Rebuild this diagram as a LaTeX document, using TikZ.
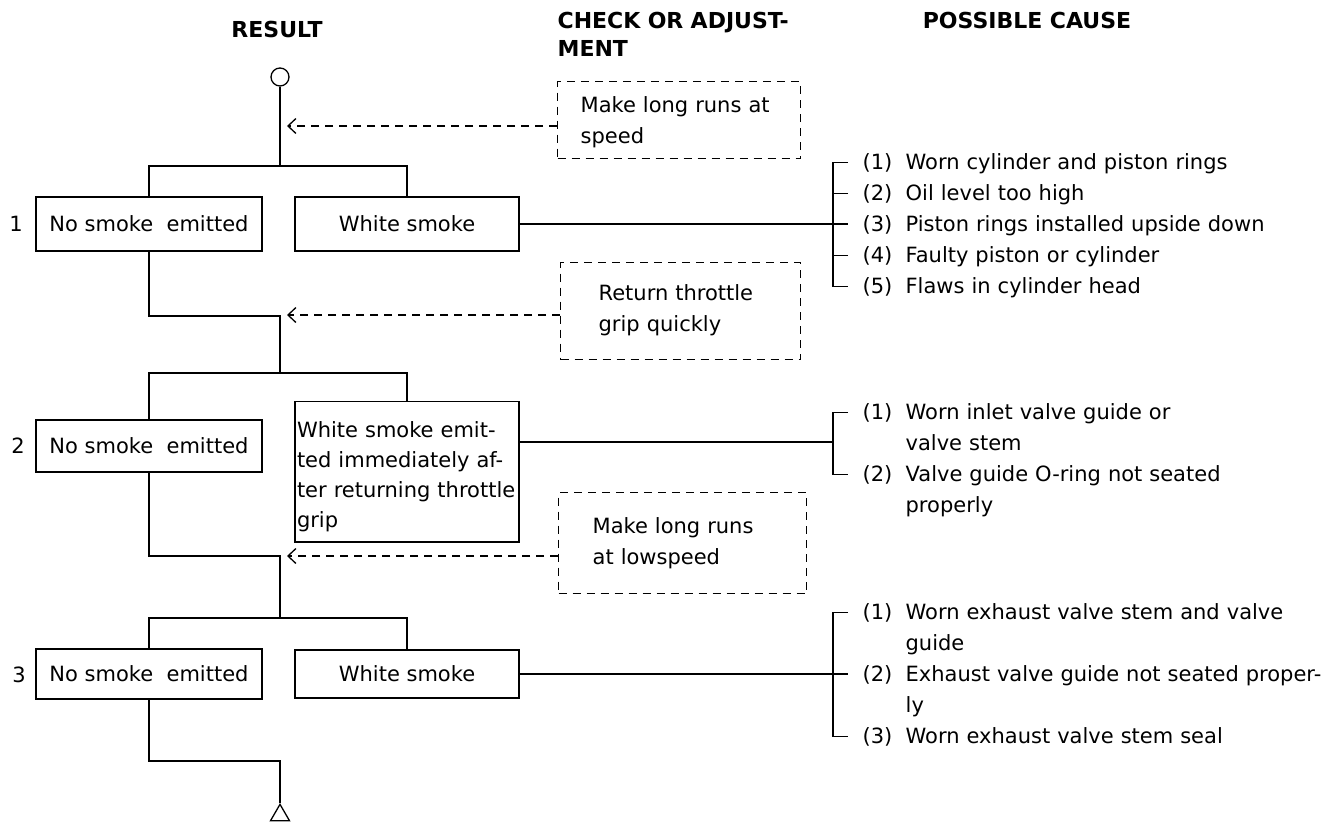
\documentclass[tikz,border=0pt]{standalone}
\usepackage{fontspec}
\setmainfont{DejaVu Sans}
\usetikzlibrary{shapes.geometric,arrows.meta}

\tikzset{
  result/.style={draw, minimum width=226pt, minimum height=54pt, inner sep=0pt},
  check/.style={draw, dash pattern=on 8pt off 6pt, anchor=north west, align=left, inner ysep=0pt},
  back/.style={dash pattern=on 8pt off 6pt, -{Straight Barb[length=8pt,width=15pt]}},
  causenum/.style={anchor=base west, inner xsep=14pt, inner ysep=0pt},
  causetext/.style={anchor=base west, inner sep=0pt, text width=420pt, align=left},
  head/.style={font=\fontsize{22}{28}\selectfont\bfseries, inner sep=0pt},
}

\begin{document}
\begin{tikzpicture}[x=1pt, y=-1pt, line width=1.3pt, font=\fontsize{21}{31}\selectfont]
\useasboundingbox (0,0) rectangle (1337,822);

% column heads
\node[head] (hres) at (277,29) {RESULT};
\node[head, anchor=base west, text width=260pt, align=left] (hchk) at (557,28) {CHECK OR ADJUST-\\MENT};
\node[head, anchor=base] (hcause) at (1027,28) {POSSIBLE CAUSE};

% result column
\node[draw, circle, minimum size=18pt, inner sep=0pt] (start) at (280,77) {};
\node[result] (nos1) at (149,224) {No smoke~~emitted};
\node[result, minimum width=224pt] (wht1) at (407,224) {White smoke};
\node[result, minimum height=52pt] (nos2) at (149,446) {No smoke~~emitted};
\node[result, minimum width=0pt, minimum height=0pt, anchor=north, text width=220pt, align=left,
  inner xsep=2pt, inner ysep=10pt, text height=26pt,
  font=\fontsize{21}{30}\selectfont] (wht2) at (407,401)
  {\mbox{White smoke emit-}\\\mbox{ted immediately af-}\\\mbox{ter returning throttle}\\\mbox{grip}};
\node[result, minimum height=50pt] (nos3) at (149,674) {No smoke~~emitted};
\node[result, minimum width=224pt, minimum height=48pt] (wht3) at (407,674) {White smoke};
\node[draw, regular polygon, regular polygon sides=3, minimum size=22pt, inner sep=0pt,
  anchor=corner 1] (stop) at (280,803) {};

\node (lab1) at (16,224) {1};
\node (lab2) at (18,446) {2};
\node (lab3) at (19,675) {3};

\coordinate (br1) at (280,166);
\coordinate (j1) at (280,316);
\coordinate (br2) at (280,373);
\coordinate (j2) at (280,556);
\coordinate (br3) at (280,618);
\coordinate (j3) at (280,761);

\draw (start) -- (br1);
\draw (nos1.north) |- (br1) -| (wht1.north);
\draw (nos1.south) |- (j1) -- (br2);
\draw (nos2.north) |- (br2) -| (wht2.north);
\draw (nos2.south) |- (j2) -- (br3);
\draw (nos3.north) |- (br3) -| (wht3.north);
\draw (nos3.south) |- (j3) -- (stop.corner 1);

% check or adjustment
\node[check, inner xsep=23pt, text width=197pt, text height=31pt, text depth=46pt] (chk1) at (557,81)
  {Make long runs at\\speed};
\node[check, inner xsep=38pt, text width=164pt, text height=38pt, text depth=59pt] (chk2) at (560,262)
  {Return throttle\\grip quickly};
\node[check, inner xsep=34pt, text width=180pt, text height=41pt, text depth=60pt] (chk3) at (558,492)
  {Make long runs\\at lowspeed};

\coordinate (ar1) at (287,126);
\coordinate (ar2) at (287,315);
\coordinate (ar3) at (287,556);
\draw[back] (chk1.west |- ar1) -- (ar1);
\draw[back] (chk2.west |- ar2) -- (ar2);
\draw[back] (chk3.west |- ar3) -- (ar3);

% possible causes
\node[causenum] (n11) at (848,169) {(1)};
\node[causenum] (n12) at (848,200) {(2)};
\node[causenum] (n13) at (848,231) {(3)};
\node[causenum] (n14) at (848,262) {(4)};
\node[causenum] (n15) at (848,293) {(5)};
\node[causetext] (t11) at (905,169) {Worn cylinder and piston rings};
\node[causetext] (t12) at (905,200) {Oil level too high};
\node[causetext] (t13) at (905,231) {Piston rings installed upside down};
\node[causetext] (t14) at (905,262) {Faulty piston or cylinder};
\node[causetext] (t15) at (905,293) {Flaws in cylinder head};

\node[causenum] (n21) at (848,419) {(1)};
\node[causenum] (n22) at (848,481) {(2)};
\node[causetext] (t21) at (905,419) {Worn inlet valve guide or\\valve stem};
\node[causetext] (t22) at (905,481) {Valve guide O-ring not seated\\properly};

\node[causenum] (n31) at (848,619) {(1)};
\node[causenum] (n32) at (848,681) {(2)};
\node[causenum] (n33) at (848,743) {(3)};
\node[causetext] (t31) at (905,619) {Worn exhaust valve stem and valve\\guide};
\node[causetext] (t32) at (905,681) {Exhaust valve guide not seated proper-\\ly};
\node[causetext] (t33) at (905,743) {Worn exhaust valve stem seal};

\coordinate (b1) at (833,224);
\coordinate (b2) at (833,442);
\coordinate (b3) at (833,674);

\draw (n11.west) -- (n11.west -| b1) -- (n15.west -| b1) -- (n15.west);
\draw (n12.west) -- (n12.west -| b1);
\draw (n14.west) -- (n14.west -| b1);
\draw (wht1.east) -- (wht1.east -| n13.west);

\draw (n21.west) -- (n21.west -| b2) -- (n22.west -| b2) -- (n22.west);
\draw (b2 -| wht2.east) -- (b2);

\draw (n31.west) -- (n31.west -| b3) -- (n33.west -| b3) -- (n33.west);
\draw (wht3.east) -- (wht3.east -| n32.west);
\end{tikzpicture}
\end{document}
